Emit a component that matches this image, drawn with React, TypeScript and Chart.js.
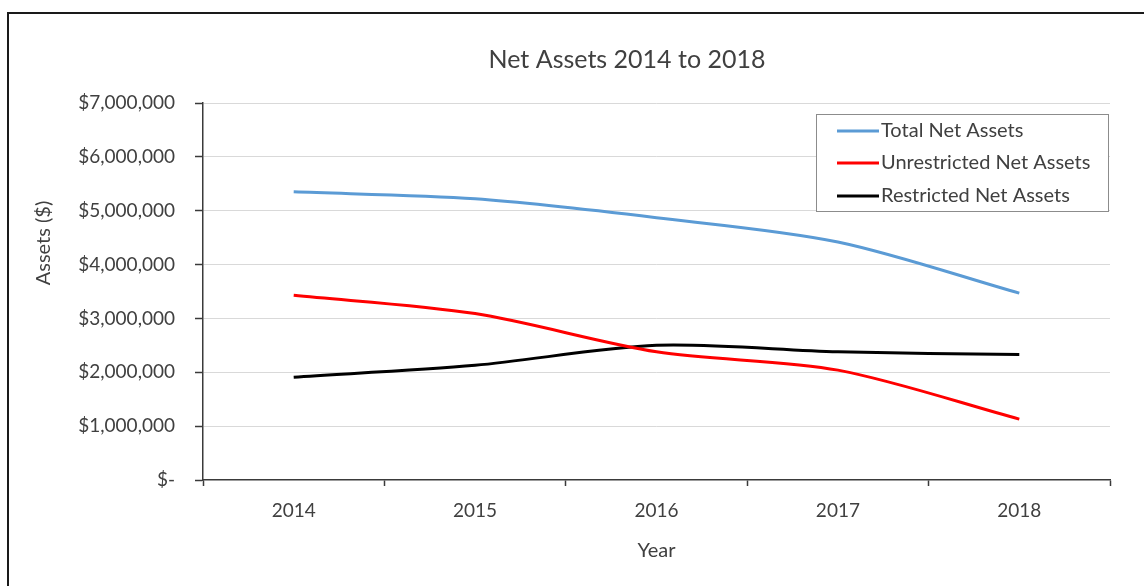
import React, { useEffect, useRef } from "react";
import { Chart, registerables } from "chart.js";

Chart.register(...registerables);

const years = ["2014", "2015", "2016", "2017", "2018"];
const totalNetAssets = [5350000, 5220000, 4870000, 4420000, 3470000];
const unrestrictedNetAssets = [3430000, 3090000, 2380000, 2040000, 1130000];
const restrictedNetAssets = [1910000, 2130000, 2500000, 2380000, 2330000];

const seriesNames = ["Total Net Assets", "Unrestricted Net Assets", "Restricted Net Assets"];
const seriesColors = ["#5B9BD5", "#FF0000", "#000000"];

const chartTitle = "Net Assets 2014 to 2018";
const yAxisTitle = "Assets ($)";
const xAxisTitle = "Year";

const FONT = "Lato";
const TEXT = "#404040";

const decorPlugin = {
  id: "decor",
  beforeDraw(chart: any) {
    const ctx = chart.ctx;
    ctx.save();
    ctx.fillStyle = "#ffffff";
    ctx.fillRect(0, 0, chart.width, chart.height);
    ctx.fillStyle = "#1a1a1a";
    ctx.fillRect(7, 12, chart.width, 2);
    ctx.fillRect(7, 12, 2, chart.height);
    ctx.restore();
  },
  afterDraw(chart: any) {
    const ctx = chart.ctx;
    // chart title
    ctx.save();
    ctx.fillStyle = TEXT;
    ctx.font = `25px ${FONT}`;
    ctx.textAlign = "center";
    ctx.textBaseline = "middle";
    ctx.fillText(chartTitle, 627, 60);
    ctx.restore();

    // y axis title
    ctx.save();
    ctx.fillStyle = TEXT;
    ctx.font = `20px ${FONT}`;
    ctx.textAlign = "center";
    ctx.textBaseline = "middle";
    ctx.translate(44, 243);
    ctx.rotate(-Math.PI / 2);
    ctx.fillText(yAxisTitle, 0, 0);
    ctx.restore();

    // legend
    ctx.save();
    const bx = 816, by = 114, bw = 292, bh = 97;
    ctx.fillStyle = "#ffffff";
    ctx.fillRect(bx, by, bw, bh);
    ctx.strokeStyle = "#8c8c8c";
    ctx.lineWidth = 1;
    ctx.strokeRect(bx + 0.5, by + 0.5, bw, bh);
    const rows = [131, 163, 196];
    ctx.font = `20px ${FONT}`;
    ctx.textAlign = "left";
    ctx.textBaseline = "middle";
    seriesNames.forEach((name, i) => {
      ctx.strokeStyle = seriesColors[i];
      ctx.lineWidth = 3;
      ctx.beginPath();
      ctx.moveTo(837, rows[i]);
      ctx.lineTo(879, rows[i]);
      ctx.stroke();
      ctx.fillStyle = TEXT;
      ctx.fillText(name, 881, rows[i]);
    });
    ctx.restore();
  },
};

export default function App() {
  const ref = useRef<HTMLCanvasElement>(null);
  useEffect(() => {
    document.body.style.margin = "0";
    document.body.style.overflow = "hidden";
    const values = [totalNetAssets, unrestrictedNetAssets, restrictedNetAssets];
    const chart = new Chart(ref.current!, {
      type: "line",
      data: {
        labels: years,
        datasets: seriesNames.map((name, i) => ({
          label: name,
          data: values[i],
          borderColor: seriesColors[i],
          backgroundColor: seriesColors[i],
          borderWidth: 3,
          pointRadius: 0,
          tension: 0.3,
          fill: false,
        })),
      },
      options: {
        animation: false,
        responsive: true,
        maintainAspectRatio: false,
        layout: { padding: { left: 0, right: 34, top: 103, bottom: 0 } },
        plugins: {
          legend: { display: false },
          tooltip: { enabled: false },
          title: { display: false },
        },
        scales: {
          x: {
            offset: true,
            afterFit(scale: any) {
              scale.height = 106;
            },
            grid: {
              display: true,
              drawOnChartArea: false,
              drawTicks: true,
              tickLength: 6,
              offset: true,
              tickColor: "#3a3a3a",
              tickWidth: 1.5,
            },
            border: { display: true, color: "#3a3a3a", width: 1.5 },
            ticks: {
              color: TEXT,
              font: { family: FONT, size: 19 },
              padding: 13,
              maxRotation: 0,
            },
            title: {
              display: true,
              text: xAxisTitle,
              color: TEXT,
              font: { family: FONT, size: 20 },
              padding: { top: 0, bottom: 23 },
            },
          },
          y: {
            min: 0,
            max: 7000000,
            afterFit(scale: any) {
              scale.width = 203;
            },
            grid: {
              color: (c: any) => (c.tick && c.tick.value === 0 ? "rgba(0,0,0,0)" : "#d9d9d9"),
              lineWidth: 1,
              tickLength: 8,
              tickColor: "#3a3a3a",
              tickWidth: 1.5,
            },
            border: { display: true, color: "#3a3a3a", width: 1.5 },
            ticks: {
              stepSize: 1000000,
              color: TEXT,
              font: { family: FONT, size: 19 },
              padding: 20,
              callback: (v: any) =>
                Number(v) === 0 ? "$-" : "$" + Number(v).toLocaleString("en-US"),
            },
          },
        },
      },
      plugins: [decorPlugin],
    });
    return () => chart.destroy();
  }, []);
  return (
    <div style={{ position: "relative", width: 1144, height: 586 }}>
      <canvas ref={ref} />
    </div>
  );
}
